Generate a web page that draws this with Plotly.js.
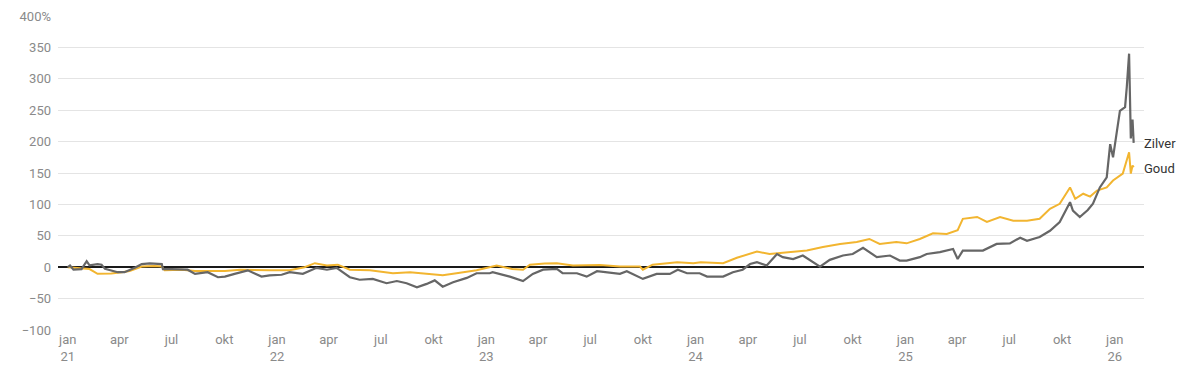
<!DOCTYPE html>
<html>
<head>
<meta charset="utf-8">
<script src="https://cdn.plot.ly/plotly-3.0.1.min.js"></script>
<style>
  html, body { margin: 0; padding: 0; background: #fff; }
  #chart { width: 1200px; height: 371px; }
</style>
</head>
<body>
<div id="chart"></div>
<script>
// Silver (Zilver) – % change since Jan 2021
const silverDates = [
  "2021-01-01","2021-01-05","2021-01-11","2021-01-25","2021-02-03","2021-02-08","2021-02-22","2021-03-01","2021-03-07","2021-03-15",
  "2021-03-29","2021-04-10","2021-04-28","2021-05-10","2021-05-24","2021-06-14","2021-06-16","2021-07-01","2021-07-19","2021-07-29",
  "2021-08-11","2021-09-02","2021-09-20","2021-10-02","2021-10-19","2021-11-11","2021-11-23","2021-12-05","2021-12-19","2022-01-09",
  "2022-01-23","2022-02-15","2022-03-11","2022-03-29","2022-04-15","2022-05-08","2022-05-25","2022-06-17","2022-07-11","2022-07-29",
  "2022-08-15","2022-09-02","2022-09-19","2022-10-03","2022-10-17","2022-11-04","2022-11-28","2022-12-15","2023-01-07","2023-01-12",
  "2023-02-11","2023-03-06","2023-03-23","2023-04-10","2023-05-04","2023-05-14","2023-06-08","2023-06-25","2023-07-13","2023-07-30",
  "2023-08-22","2023-09-03","2023-10-01","2023-10-25","2023-11-17","2023-12-01","2023-12-17","2024-01-08","2024-01-21","2024-02-18",
  "2024-03-06","2024-03-23","2024-04-05","2024-04-17","2024-05-04","2024-05-22","2024-06-01","2024-06-19","2024-07-06","2024-08-05",
  "2024-08-22","2024-09-14","2024-10-01","2024-10-19","2024-11-12","2024-12-05","2024-12-22","2025-01-03","2025-01-26","2025-02-07",
  "2025-03-02","2025-03-25","2025-04-02","2025-04-11","2025-05-16","2025-06-09","2025-07-02","2025-07-20","2025-08-01","2025-08-23",
  "2025-09-10","2025-09-27","2025-10-15","2025-10-20","2025-11-01","2025-11-15","2025-11-24","2025-12-06","2025-12-18","2025-12-24",
  "2025-12-29","2026-01-10","2026-01-19","2026-01-22","2026-01-26","2026-01-29","2026-02-01","2026-02-03"
];
const silverValues = [
  0, 2.7, -4, -3, 9.6, 3, 5, 4, -2.7, -5,
  -8, -8, -1, 5, 6, 5, -3, -3, -3, -4,
  -10.6, -8, -16, -15, -10.6, -5, -10, -15, -13, -12,
  -8, -10.6, -1, -4, -1, -16, -20, -18.6, -25.5, -22,
  -25.5, -32, -26.6, -21, -31, -24, -17, -9.6, -9.6, -8,
  -15, -22, -10.6, -4, -2.7, -9.6, -9.6, -15, -6.4, -8,
  -10.6, -6.4, -18.6, -10.6, -10.6, -4, -9.6, -9.6, -15, -15,
  -8, -4, 5, 8, 2.7, 21, 16, 13, 18.6, 1,
  11.7, 18.6, 21, 31, 16, 18.6, 10.6, 10.6, 16, 21,
  24, 29, 13, 26.5, 26.5, 37, 38, 47, 42, 48,
  58, 72, 103.5, 90, 80, 91, 101, 127, 143, 196,
  175, 249, 255, 287, 340, 205, 235, 198
];

// Gold (Goud) – % change since Jan 2021
const goldDates = [
  "2021-01-01","2021-01-13","2021-01-25","2021-02-08","2021-02-22","2021-03-18","2021-04-05","2021-04-19","2021-05-10","2021-06-01",
  "2021-06-14","2021-06-19","2021-07-19","2021-08-11","2021-09-06","2021-10-02","2021-10-29","2021-11-23","2021-12-19","2022-01-23",
  "2022-02-18","2022-03-08","2022-03-29","2022-04-17","2022-05-08","2022-06-12","2022-07-22","2022-08-21","2022-09-25","2022-10-17",
  "2022-11-10","2022-12-15","2023-01-19","2023-02-15","2023-03-06","2023-03-18","2023-04-13","2023-05-04","2023-06-01","2023-07-18",
  "2023-08-22","2023-09-26","2023-10-01","2023-10-18","2023-11-30","2023-12-28","2024-01-10","2024-02-18","2024-03-13","2024-04-17",
  "2024-05-09","2024-06-13","2024-07-13","2024-08-10","2024-09-09","2024-10-08","2024-10-30","2024-11-17","2024-12-16","2025-01-03",
  "2025-01-26","2025-02-18","2025-03-14","2025-04-02","2025-04-11","2025-05-06","2025-05-23","2025-06-15","2025-07-08","2025-08-01",
  "2025-08-23","2025-09-10","2025-09-27","2025-10-15","2025-10-24","2025-11-07","2025-11-19","2025-12-01","2025-12-18","2025-12-29",
  "2026-01-15","2026-01-26","2026-01-29","2026-02-01","2026-02-03"
];
const goldValues = [
  0, -1, -2.7, -3, -10.6, -10, -8, -6, 1, 2,
  1, -5, -4, -6, -6, -6, -4, -5, -5, -5,
  0, 6.4, 2.7, 4, -4, -5, -9.6, -8, -10.6, -13,
  -9.6, -5, 2.7, -2.7, -4, 4, 6, 6.4, 2.7, 3.7,
  1, 1, -4, 4, 8, 6.4, 8, 6.4, 15, 25,
  21, 24, 26.6, 32, 37, 40, 45, 37, 40, 38,
  45, 54, 53, 59, 77, 80, 72, 80, 74, 74,
  77, 93, 101, 127, 109, 117, 112.5, 122, 127, 138,
  149, 183, 149, 162, 159
];

// Axis ticks
const yTickVals = [-100, -50, 0, 50, 100, 150, 200, 250, 300, 350, 400];
const yTickText = ["\u2212100", "\u221250", "0", "50", "100", "150", "200", "250", "300", "350", "400%"];
const xTickVals = [
  "2021-01-01","2021-04-01","2021-07-01","2021-10-01",
  "2022-01-01","2022-04-01","2022-07-01","2022-10-01",
  "2023-01-01","2023-04-01","2023-07-01","2023-10-01",
  "2024-01-01","2024-04-01","2024-07-01","2024-10-01",
  "2025-01-01","2025-04-01","2025-07-01","2025-10-01",
  "2026-01-01"
];
const xTickText = [
  "jan<br>21","apr","jul","okt",
  "jan<br>22","apr","jul","okt",
  "jan<br>23","apr","jul","okt",
  "jan<br>24","apr","jul","okt",
  "jan<br>25","apr","jul","okt",
  "jan<br>26"
];
const seriesNames = ["Zilver", "Goud"];

const traces = [
  {
    x: goldDates, y: goldValues, name: seriesNames[1], type: "scatter", mode: "lines",
    line: { color: "#f2b530", width: 2 }, hoverinfo: "skip"
  },
  {
    x: silverDates, y: silverValues, name: seriesNames[0], type: "scatter", mode: "lines",
    line: { color: "#666666", width: 2.2 }, hoverinfo: "skip"
  }
];

const layout = {
  width: 1200, height: 371,
  margin: { l: 58, r: 56, t: 16, b: 41 },
  paper_bgcolor: "#ffffff", plot_bgcolor: "#ffffff",
  showlegend: false,
  font: { family: "Roboto, 'Open Sans', sans-serif", size: 13, color: "#8a8a8a" },
  xaxis: {
    type: "date",
    range: ["2020-12-15", "2026-02-21"],
    tickvals: xTickVals, ticktext: xTickText,
    showgrid: false, zeroline: false, showline: false,
    ticks: "", tickfont: { size: 13, color: "#8a8a8a" }
  },
  yaxis: {
    range: [-100, 400],
    tickvals: yTickVals, ticktext: yTickText,
    showgrid: true, gridcolor: "#e4e4e4", gridwidth: 1,
    zeroline: true, zerolinecolor: "#1a1a1a", zerolinewidth: 1.5,
    showline: false, ticks: "", ticklabelstandoff: 6,
    tickfont: { size: 13, color: "#8a8a8a" }
  },
  annotations: [
    { x: silverDates[silverDates.length - 1], y: silverValues[silverValues.length - 1], xref: "x", yref: "y",
      text: seriesNames[0], showarrow: false, xanchor: "left", xshift: 8, yshift: -1,
      font: { size: 13, color: "#333333" } },
    { x: goldDates[goldDates.length - 1], y: goldValues[goldValues.length - 1], xref: "x", yref: "y",
      text: seriesNames[1], showarrow: false, xanchor: "left", xshift: 8, yshift: -1,
      font: { size: 13, color: "#333333" } }
  ]
};

Plotly.newPlot("chart", traces, layout, { staticPlot: true, displayModeBar: false });
</script>
</body>
</html>
